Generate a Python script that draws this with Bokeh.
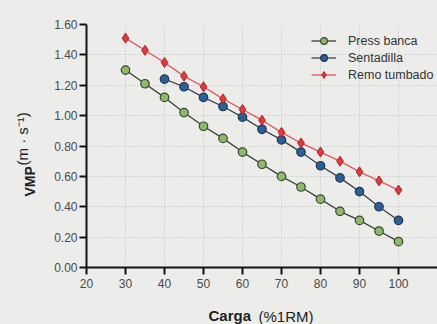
from bokeh.plotting import figure
from bokeh.models import Range1d, FixedTicker, NumeralTickFormatter, Label, Legend, LegendItem
from bokeh.embed import file_html
from bokeh.resources import INLINE
import math

carga_a = [30, 35, 40, 45, 50, 55, 60, 65, 70, 75, 80, 85, 90, 95, 100]
press_banca = [1.30, 1.21, 1.12, 1.02, 0.93, 0.85, 0.76, 0.68, 0.60, 0.53, 0.45, 0.37, 0.31, 0.24, 0.17]
carga_s = [40, 45, 50, 55, 60, 65, 70, 75, 80, 85, 90, 95, 100]
sentadilla = [1.24, 1.19, 1.12, 1.06, 0.99, 0.91, 0.84, 0.76, 0.67, 0.59, 0.50, 0.40, 0.31]
remo_tumbado = [1.51, 1.43, 1.35, 1.26, 1.19, 1.11, 1.04, 0.97, 0.89, 0.82, 0.76, 0.70, 0.63, 0.57, 0.51]
x_ticks = [20, 30, 40, 50, 60, 70, 80, 90, 100]
y_ticks = [0.0, 0.2, 0.4, 0.6, 0.8, 1.0, 1.2, 1.4, 1.6]

BG = "#ecedeb"
FONT = "Liberation Sans"

p = figure(width=437, height=324, output_backend="svg", toolbar_location=None,
           x_range=Range1d(20, 110), y_range=Range1d(0, 1.6),
           min_border_left=86, min_border_right=0, min_border_top=24, min_border_bottom=56)
p.background_fill_color = BG
p.border_fill_color = BG
p.outline_line_color = None

for ax in (p.xaxis[0], p.yaxis[0]):
    ax.axis_line_width = 2
    ax.axis_line_color = "#111111"
    ax.major_tick_line_width = 2
    ax.major_tick_line_color = "#111111"
    ax.major_tick_in = 0
    ax.major_tick_out = 7
    ax.minor_tick_line_color = None
    ax.major_label_text_font = FONT
    ax.major_label_text_font_size = "12px"
    ax.major_label_text_color = "#4a4a4a"

p.xaxis.ticker = FixedTicker(ticks=x_ticks)
p.yaxis.ticker = FixedTicker(ticks=y_ticks)
p.yaxis.formatter = NumeralTickFormatter(format="0.00")
p.xaxis.major_label_standoff = 4
p.yaxis.major_label_standoff = 2

for g in (p.xgrid[0], p.ygrid[0]):
    g.grid_line_color = "#bdbebc"
    g.grid_line_dash = "1 2"
    g.grid_line_width = 1
p.xgrid.ticker = FixedTicker(ticks=x_ticks[1:] + [110])
p.ygrid.ticker = FixedTicker(ticks=y_ticks[1:])

GREEN = "#8fb96a"
BLUE = "#2b5f96"
RED = "#e03a3c"

l1 = p.line(carga_a, press_banca, line_color="#3a3f35", line_width=1.3)
m1 = p.scatter(carga_a, press_banca, marker="circle", size=8.5, fill_color=GREEN, line_color="#38472c", line_width=1.2)
l2 = p.line(carga_s, sentadilla, line_color="#3a3f45", line_width=1.3)
m2 = p.scatter(carga_s, sentadilla, marker="circle", size=8.5, fill_color=BLUE, line_color="#1d3450", line_width=1.2)
l3 = p.line(carga_a, remo_tumbado, line_color="#e0575a", line_width=1.3)
m3 = p.scatter(carga_a, remo_tumbado, marker="diamond", size=10, fill_color=RED, line_color="#a82528", line_width=1)

legend = Legend(items=[
    LegendItem(label="Press banca", renderers=[l1, m1]),
    LegendItem(label="Sentadilla", renderers=[l2, m2]),
    LegendItem(label="Remo tumbado", renderers=[l3, m3]),
], location=(222, 181))
legend.background_fill_alpha = 0
legend.border_line_alpha = 0
legend.label_text_font = FONT
legend.label_text_font_size = "12.5px"
legend.label_text_color = "#333333"
legend.glyph_width = 25
legend.glyph_height = 17
legend.label_height = 17
legend.spacing = 0
legend.label_standoff = 12
legend.padding = 3
legend.margin = 0
p.add_layout(legend)

# axis titles (bold name + normal unit), placed in the side panels
p.add_layout(Label(x=122, y=-8, x_units="screen", y_units="screen", text="Carga", text_font=FONT,
                   text_font_size="15px", text_font_style="bold", text_color="#222222",
                   text_align="left", text_baseline="alphabetic"), "below")
p.add_layout(Label(x=172, y=8, x_units="screen", y_units="screen", text="(%1RM)", text_font=FONT,
                   text_font_size="15px", text_color="#222222",
                   text_align="left", text_baseline="alphabetic"), "below")
p.add_layout(Label(x=-6, y=71, x_units="screen", y_units="screen", text="VMP", angle=math.pi / 2,
                   text_font=FONT, text_font_size="14px", text_font_style="bold", text_color="#222222",
                   text_align="left", text_baseline="alphabetic"), "left")
p.add_layout(Label(x=4, y=102, x_units="screen", y_units="screen", text="(m · s⁻¹)", angle=math.pi / 2,
                   text_font=FONT, text_font_size="15px", text_color="#222222",
                   text_align="left", text_baseline="alphabetic"), "left")

html = file_html(p, INLINE)
html = html.replace("</head>", "<style>body{background:%s;}</style></head>" % BG, 1)
open("out.html", "w").write(html)
